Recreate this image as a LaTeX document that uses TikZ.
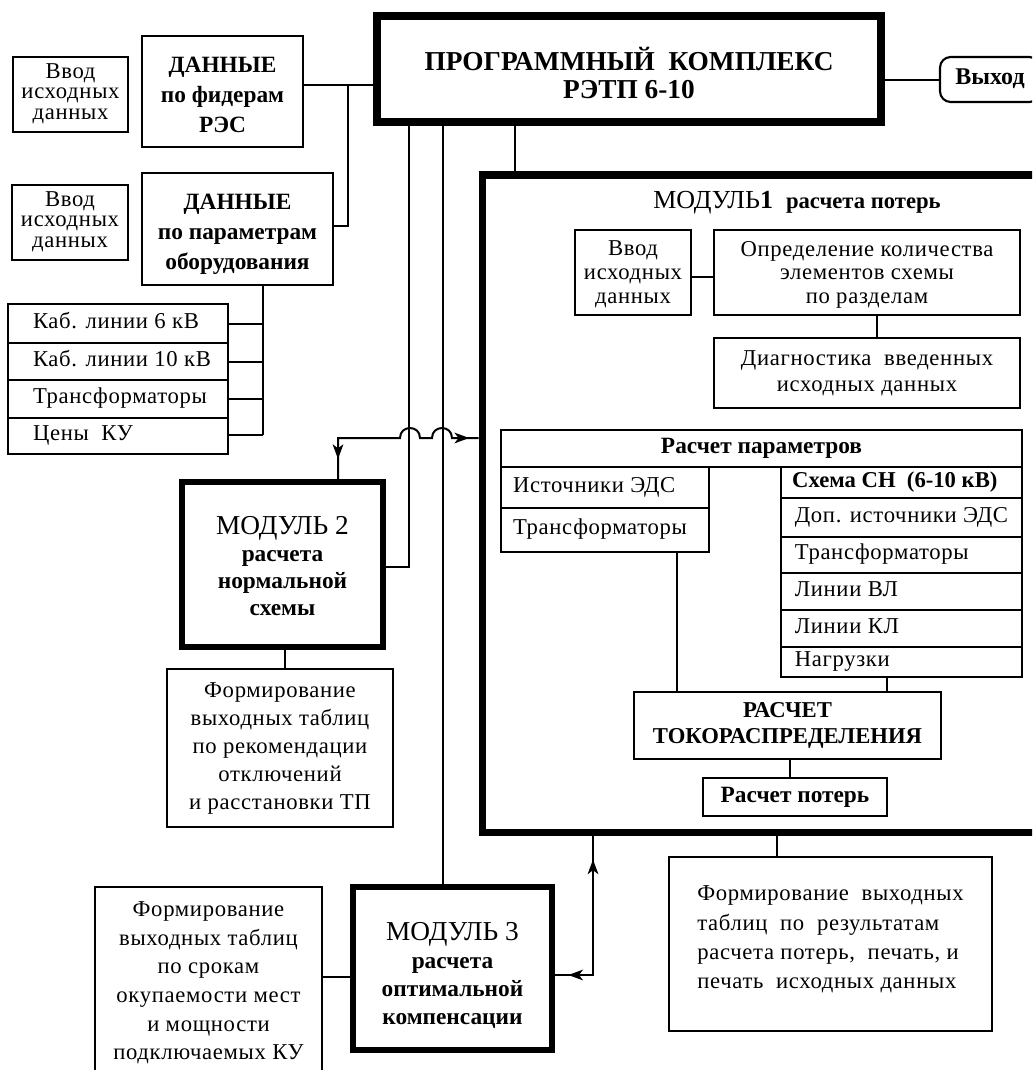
\documentclass[tikz,border=0pt]{standalone}
\usepackage{fontspec}
\setmainfont{Liberation Serif}
\newfontfamily\regf[LetterSpace=3]{Liberation Serif}
\usetikzlibrary{arrows.meta,decorations.markings}
\newcommand\mlc[1]{\begin{tabular}{@{}c@{}}#1\end{tabular}}
\newcommand\mll[1]{\begin{tabular}{@{}l@{}}#1\end{tabular}}
\newcommand\rowt[2]{\makebox[#1][l]{\strut#2}}
\begin{document}
\begin{tikzpicture}[x=0.75pt, y=-0.75pt,
  xyxy/.style n args={4}{minimum width={(#3-#1)*0.75pt}, minimum height={(#4-#2)*0.75pt}, at={({(#1+#3)/2},{(#2+#4)/2})}},
  box/.style={draw, line width=1.6pt, inner sep=0pt},
  tbl/.style={draw, line width=1.3pt, inner sep=0pt},
  conn/.style={line width=1.5pt},
  modbox/.style={draw, line width=4.5pt, inner sep=0pt},
  rg/.style={font=\regf\fontsize{17}{#1}\selectfont},
  bd/.style={font=\bfseries\fontsize{17.5}{#1}\selectfont},
  >={Stealth[length=11pt,width=8pt,inset=3pt]}
]
\useasboundingbox (0,0) rectangle (1032,1070);
\fill[white] (0,0) rectangle (1032,1070);
\clip (0,0) rectangle (1032,1070);

% ---------- left column ----------
\node[box, rg=15.5, xyxy={13}{57}{128}{132}] (vv1) {\mlc{Ввод\\исходных\\данных}};
\node[box, bd=22.5, xyxy={142}{36}{303}{147}] (d1) {\mlc{\rule{0pt}{23.3pt}ДАННЫЕ\\по фидерам\\РЭС}};
\node[box, rg=15.5, xyxy={12}{185}{128}{260}] (vv2) {\mlc{Ввод\\исходных\\данных}};
\node[box, bd=22.5, xyxy={142}{173}{333}{285}] (d2) {\mlc{\rule{0pt}{22pt}ДАННЫЕ\\по параметрам\\оборудования}};

\node[tbl, rg=18, xyxy={8}{304}{228}{343}] (kab6) {\rowt{127.5pt}{Каб. линии 6 кВ}};
\node[tbl, rg=18, xyxy={8}{343}{228}{380}] (kab10) {\rowt{127.5pt}{Каб. линии 10 кВ}};
\node[tbl, rg=18, xyxy={8}{380}{228}{418}] (ktr) {\rowt{127.5pt}{Трансформаторы}};
\node[tbl, rg=18, xyxy={8}{418}{228}{454}] (kcen) {\rowt{127.5pt}{Цены~~КУ}};

% ---------- top ----------
\node[modbox, line width=6pt, font=\bfseries\fontsize{20.5}{21}\selectfont, xyxy={377}{16}{881}{122}] (top) {\mlc{\rule{0pt}{29pt}ПРОГРАММНЫЙ~~КОМПЛЕКС\\РЭТП 6-10}};
\node[box, rounded corners=8pt, font=\bfseries\fontsize{18}{20}\selectfont, xyxy={940}{57}{1040}{102}] (vyh) {\strut Выход};

% ---------- module 2 ----------
\node[modbox, bd=20.25, xyxy={182}{482}{383}{647}] (m2) {\mlc{\rule{0pt}{22pt}{\mdseries\fontsize{20.5}{20}\selectfont МОДУЛЬ 2}\\расчета\\нормальной\\схемы}};
\node[box, rg=21, xyxy={167}{669}{393}{827}] (f1) {\mlc{Формирование\\выходных таблиц\\по рекомендации\\отключений\\и расстановки ТП}};

% ---------- module 3 ----------
\node[modbox, bd=21, xyxy={353}{887}{552}{1050}] (m3) {\mlc{\rule{0pt}{26.7pt}{\mdseries\fontsize{20.5}{20}\selectfont МОДУЛЬ 3}\\расчета\\оптимальной\\компенсации}};
\node[box, rg=21.5, xyxy={95}{887}{322}{1078}] (f3) {\mlc{Формирование\\выходных таблиц\\по срокам\\окупаемости мест\\и мощности\\подключаемых КУ}};

% ---------- module 1 ----------
\node[modbox, line width=5.25pt, xyxy={482}{175}{1045}{832}] (m1) {};
\node[font=\fontsize{19.5}{22}\selectfont] (m1t) at (797,203) {МОДУЛЬ\textbf{1}~~{\bfseries\fontsize{17}{20}\selectfont расчета потерь}};
\node[box, rg=18, xyxy={575}{230}{691}{315}] (vv3) {\mlc{\rule{0pt}{16pt}Ввод\\исходных\\данных}};
\node[box, rg=17.5, xyxy={714}{230}{1020}{315}] (opr) {\mlc{\rule{0pt}{16pt}Определение количества\\элементов схемы\\по разделам}};
\node[box, rg=20, xyxy={714}{338}{1020}{408}] (dia) {\mlc{Диагностика~~введенных\\исходных данных}};

\node[tbl, font=\bfseries\fontsize{17.5}{18}\selectfont, xyxy={501}{430}{1022}{467}] (rpar) {\strut Расчет параметров};
\node[tbl, rg=18, xyxy={501}{467}{709}{508}] (lis) {\rowt{138pt}{Источники ЭДС}};
\node[tbl, rg=18, xyxy={501}{508}{709}{552}] (ltr) {\rowt{138pt}{Трансформаторы}};

\node[tbl, font=\bfseries\fontsize{17}{18}\selectfont, xyxy={781}{467}{1022}{498}] (rsch) {\rowt{164pt}{Схема СН~~(6-10 кВ)}};
\node[tbl, rg=18, xyxy={781}{498}{1022}{537}] (rdop) {\rowt{160pt}{Доп. источники ЭДС}};
\node[tbl, rg=18, xyxy={781}{537}{1022}{573}] (rtr) {\rowt{160pt}{Трансформаторы}};
\node[tbl, rg=18, xyxy={781}{573}{1022}{610}] (rvl) {\rowt{160pt}{Линии ВЛ}};
\node[tbl, rg=18, xyxy={781}{610}{1022}{647}] (rkl) {\rowt{160pt}{Линии КЛ}};
\node[tbl, rg=18, xyxy={781}{647}{1022}{677}] (rng) {\rowt{160pt}{Нагрузки}};

\node[box, font=\bfseries\fontsize{17}{19.5}\selectfont, xyxy={634}{692}{941}{759}] (tok) {\mlc{РАСЧЕТ\\ТОКОРАСПРЕДЕЛЕНИЯ}};
\node[box, font=\bfseries\fontsize{17.5}{20}\selectfont, xyxy={703}{778}{887}{816}] (pot) {\strut Расчет потерь};
\node[box, rg=22, xyxy={669}{857}{992}{1031}] (fin) {\mll{Формирование~~выходных\\таблиц~~по~~результатам\\расчета потерь,~~печать, и\\печать~~исходных данных\rule[-14pt]{0pt}{1pt}}};

% ---------- coordinates ----------
\coordinate (j1) at (348,85);
\coordinate (j2) at (348,226);
\coordinate (j3) at (263,435);
\coordinate (k1) at (409,567);
\coordinate (x443) at (443,0);
\coordinate (x515) at (515,0);
\coordinate (h0) at (338,438);
\coordinate (c1) at (593,975);
\coordinate (y977) at (0,977);
\coordinate (y80) at (0,80);
\coordinate (y277) at (0,277);
\coordinate (x877) at (877,0);
\coordinate (x677) at (677,0);
\coordinate (x887) at (887,0);
\coordinate (x790) at (790,0);
\coordinate (x777) at (777,0);
\coordinate (x285) at (285,0);

% ---------- connectors ----------
\draw[conn] (d1.east |- j1) -- (top.west |- j1);
\draw[conn] (j1) -- (j2) -- (d2.east |- j2);
\draw[conn] (d2.south -| j3) -- (j3);
\draw[conn] (kab6.east) -- (kab6.east -| j3);
\draw[conn] (kab10.east) -- (kab10.east -| j3);
\draw[conn] (ktr.east) -- (ktr.east -| j3);
\draw[conn] (kcen.east |- j3) -- (j3);

\draw[conn] (top.east |- y80) -- (vyh.west |- y80);
\draw[conn] (top.south -| k1) -- (k1) -- (m2.east |- k1);
\draw[conn] (top.south -| x443) -- (m3.north -| x443);
\draw[conn] (top.south -| x515) -- (m1.north -| x515);

\draw[conn, postaction={decorate}, decoration={markings,
    mark=at position 15pt with {\arrowreversed{>}},
    mark=at position -7pt with {\arrow{>}}}]
  (m2.north -| h0) -- (h0) -- (400,438)
  .. controls (400,424.7) and (420,424.7) .. (420,438) -- (432,438)
  .. controls (432,424.7) and (452,424.7) .. (452,438) -- (m1.west |- h0);

\draw[conn] (m2.south -| x285) -- (f1.north -| x285);
\draw[conn] (f3.east |- y977) -- (m3.west |- y977);

\draw[conn, postaction={decorate}, decoration={markings,
    mark=at position 10pt with {\arrowreversed{>}},
    mark=at position -18pt with {\arrow{>}}}]
  (m3.east |- c1) -- (c1) -- (m1.south -| c1);

\draw[conn] (vv3.east |- y277) -- (opr.west |- y277);
\draw[conn] (opr.south -| x877) -- (dia.north -| x877);
\draw[conn] (ltr.south -| x677) -- (tok.north -| x677);
\draw[conn] (rng.south -| x887) -- (tok.north -| x887);
\draw[conn] (tok.south -| x790) -- (pot.north -| x790);
\draw[conn] (m1.south -| x777) -- (fin.north -| x777);
\end{tikzpicture}
\end{document}
